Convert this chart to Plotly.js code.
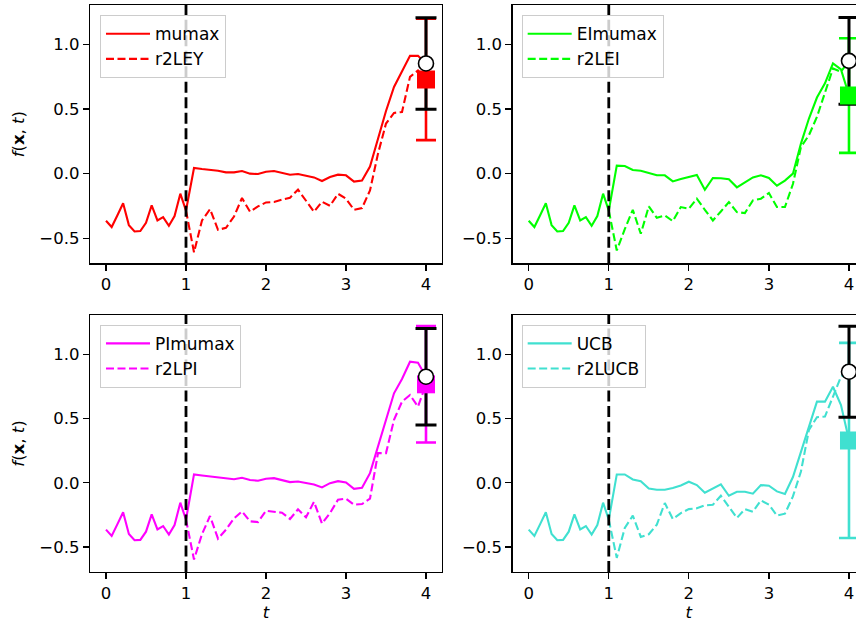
<!DOCTYPE html>
<html>
<head>
<meta charset="utf-8">
<script src="https://cdn.plot.ly/plotly-3.0.1.min.js"></script>
<style>
  html, body { margin: 0; padding: 0; overflow: hidden; background: #fff; }
  #chart { width: 880px; height: 624px; }
</style>
</head>
<body>
<div id="chart"></div>
<script>
// ---------- data ----------
const tPre = [0, 0.071, 0.143, 0.214, 0.286, 0.357, 0.429, 0.5, 0.571, 0.643, 0.714, 0.786, 0.857, 0.929, 1.0];
const tPost = [1.1, 1.2, 1.3, 1.4, 1.5, 1.6, 1.7, 1.8, 1.9, 2.0, 2.1, 2.2, 2.3, 2.4, 2.5, 2.6, 2.7, 2.8, 2.9, 3.0,
               3.1, 3.2, 3.3, 3.4, 3.5, 3.6, 3.7, 3.8, 3.9, 4.0];
const history = [-0.365, -0.414, -0.322, -0.23, -0.399, -0.448, -0.445, -0.381, -0.246, -0.363, -0.337, -0.404, -0.329, -0.155, -0.287];

const panelNames = ["mumax", "EImumax", "PImumax", "UCB"];
const r2lNames = ["r2LEY", "r2LEI", "r2LPI", "r2LUCB"];
const panelColors = ["#ff0000", "#00ff00", "#ff00ff", "#40e0d0"];

const solidMumax = [0.044, 0.036, 0.031, 0.023, 0.010, 0.010, 0.020, 0.0, -0.003, 0.015, 0.020, 0.005, -0.008, -0.003, -0.016,
  -0.029, -0.057, -0.026, -0.008, -0.013, -0.062, -0.054, 0.055, 0.273, 0.486, 0.672, 0.789, 0.913, 0.913, 0.854];
const dashR2LEY = [-0.609, -0.363, -0.275, -0.435, -0.420, -0.332, -0.189, -0.295, -0.254, -0.223, -0.220, -0.202, -0.187, -0.124, -0.212,
  -0.295, -0.218, -0.249, -0.156, -0.194, -0.280, -0.267, -0.13, 0.155, 0.388, 0.471, 0.478, 0.75, 0.80, 0.73];

const solidEImumax = [0.062, 0.059, 0.028, 0.023, 0.002, -0.013, -0.013, -0.060, -0.042, -0.026, -0.011, -0.125, -0.034, -0.036, -0.044,
  -0.106, -0.070, -0.029, -0.013, -0.034, -0.093, -0.054, 0.0, 0.233, 0.427, 0.59, 0.70, 0.854, 0.808, 0.608];
const dashR2LEI = [-0.595, -0.43, -0.280, -0.466, -0.254, -0.342, -0.324, -0.368, -0.259, -0.272, -0.194, -0.280, -0.363, -0.293, -0.220,
  -0.298, -0.306, -0.207, -0.194, -0.150, -0.259, -0.259, -0.08, 0.207, 0.298, 0.44, 0.62, 0.815, 0.79, 0.874];

const solidPImumax = [0.065, 0.057, 0.049, 0.041, 0.031, 0.028, 0.039, 0.021, 0.016, 0.031, 0.036, 0.023, 0.005, 0.010, 0.0,
  -0.013, -0.036, -0.003, 0.013, 0.003, -0.047, -0.039, 0.075, 0.282, 0.497, 0.697, 0.808, 0.943, 0.935, 0.826];
const dashR2LPI = [-0.598, -0.40, -0.259, -0.435, -0.365, -0.277, -0.223, -0.300, -0.306, -0.218, -0.225, -0.233, -0.282, -0.207, -0.269,
  -0.148, -0.318, -0.236, -0.132, -0.124, -0.171, -0.166, -0.124, 0.231, 0.231, 0.49, 0.632, 0.684, 0.593, 0.767];

const solidUCB = [0.065, 0.065, 0.026, 0.013, -0.044, -0.054, -0.054, -0.041, -0.021, 0.008, -0.018, -0.078, -0.044, -0.013, -0.101,
  -0.070, -0.070, -0.085, -0.018, -0.023, -0.067, -0.088, 0.045, 0.243, 0.443, 0.632, 0.632, 0.748, 0.606, 0.334];
const dashR2LUCB = [-0.585, -0.352, -0.256, -0.422, -0.401, -0.326, -0.158, -0.282, -0.236, -0.205, -0.199, -0.176, -0.171, -0.101, -0.184,
  -0.274, -0.205, -0.225, -0.137, -0.171, -0.256, -0.241, -0.106, 0.088, 0.412, 0.511, 0.516, 0.666, 0.826, 0.865];

const solidSeries = [solidMumax, solidEImumax, solidPImumax, solidUCB];
const dashedSeries = [dashR2LEY, dashR2LEI, dashR2LPI, dashR2LUCB];

const tFinal = [4];
const trueVal = [0.854, 0.874, 0.826, 0.865];
const trueErr = [0.355, 0.336, 0.375, 0.355];
const predVal = [0.73, 0.605, 0.767, 0.33];
const predErr = [0.47, 0.444, 0.453, 0.76];

const splitT = 1;
const xTicks = [0, 1, 2, 3, 4];
const yTicks = [-0.5, 0, 0.5, 1.0];

// ---------- build ----------
const FONT = "DejaVu Sans";
const FS = 16.5;
const LFS = 17;
const traces = [];
const axSuffix = ["", "2", "3", "4"];
const legendIds = ["legend", "legend2", "legend3", "legend4"];

for (let p = 0; p < 4; p++) {
  const xa = "x" + axSuffix[p], ya = "y" + axSuffix[p];
  const c = panelColors[p];
  traces.push({
    x: tPre.concat(tPost), y: history.concat(solidSeries[p]),
    xaxis: xa, yaxis: ya, mode: "lines", name: panelNames[p], legend: legendIds[p],
    line: { color: c, width: 2.1 }
  });
  traces.push({
    x: [tPre[tPre.length - 1]].concat(tPost), y: [history[history.length - 1]].concat(dashedSeries[p]),
    xaxis: xa, yaxis: ya, mode: "lines", name: r2lNames[p], legend: legendIds[p],
    line: { color: c, width: 2.1, dash: "8px,3.5px" }
  });
  traces.push({
    x: tFinal, y: [predVal[p]], xaxis: xa, yaxis: ya, mode: "markers", showlegend: false,
    marker: { size: 1, color: c, opacity: 0 },
    error_y: { type: "data", array: [predErr[p]], symmetric: true, color: c, thickness: 2.6, width: 10 }
  });
  traces.push({
    x: tFinal, y: [trueVal[p]], xaxis: xa, yaxis: ya, mode: "markers", showlegend: false,
    marker: { size: 1, color: "#000", opacity: 0 },
    error_y: { type: "data", array: [trueErr[p]], symmetric: true, color: "#000", thickness: 3, width: 10.5 }
  });
  traces.push({
    x: tFinal, y: [predVal[p]], xaxis: xa, yaxis: ya, mode: "markers", showlegend: false,
    marker: { symbol: "square", size: 18, color: c, line: { width: 0 } }
  });
  traces.push({
    x: tFinal, y: [trueVal[p]], xaxis: xa, yaxis: ya, mode: "markers", showlegend: false,
    marker: { symbol: "circle", size: 15, color: "#ffffff", line: { color: "#000", width: 1.6 } }
  });
}

function xAxis(domain, anchor, withTitle) {
  const a = {
    domain: domain, anchor: anchor, range: [-0.2, 4.2],
    tickvals: xTicks, ticktext: xTicks.map(String),
    ticks: "outside", ticklen: 6, tickwidth: 1.3, tickcolor: "#000",
    showline: true, linecolor: "#000", linewidth: 1.3, mirror: true,
    showgrid: false, zeroline: false, automargin: false,
    tickfont: { family: FONT, size: FS, color: "#000" }
  };
  if (withTitle) a.title = { text: "<i>t</i>", font: { family: FONT, size: FS, color: "#000" }, standoff: 4 };
  return a;
}
function yAxis(domain, anchor, withTitle) {
  const a = {
    domain: domain, anchor: anchor, range: [-0.695, 1.307],
    tickvals: yTicks, tickformat: ".1f",
    ticks: "outside", ticklen: 6, tickwidth: 1.3, tickcolor: "#000",
    showline: true, linecolor: "#000", linewidth: 1.3, mirror: true,
    showgrid: false, zeroline: false, automargin: false,
    tickfont: { family: FONT, size: FS, color: "#000" }
  };
  if (withTitle) a.title = { text: "<i>f</i>(<b>x</b>, <i>t</i>)", font: { family: FONT, size: FS, color: "#000" }, standoff: 10 };
  return a;
}

const xL = [0, 0.4542], xR = [0.5454, 1];
const yT = [0.5444, 1], yB = [0, 0.4533];

function legendAt(x, y) {
  return {
    x: x, y: y, xanchor: "left", yanchor: "top",
    bgcolor: "rgba(255,255,255,0.8)", bordercolor: "#cccccc", borderwidth: 1,
    font: { family: FONT, size: LFS, color: "#000" }, itemwidth: 44, tracegroupgap: 0
  };
}

const shapes = [];
for (let p = 0; p < 4; p++) {
  shapes.push({
    type: "line", xref: "x" + axSuffix[p], yref: "y" + axSuffix[p] + " domain",
    x0: splitT, x1: splitT, y0: 0, y1: 1, layer: "above",
    line: { color: "#000", width: 2.8, dash: "11px,4.5px" }
  });
}

const layout = {
  width: 880, height: 624,
  margin: { l: 90, r: 15, t: 5, b: 52 },
  paper_bgcolor: "#fff", plot_bgcolor: "#fff",
  font: { family: FONT, size: FS, color: "#000" },
  xaxis: xAxis(xL, "y", false), yaxis: yAxis(yT, "x", true),
  xaxis2: xAxis(xR, "y2", false), yaxis2: yAxis(yT, "x2", false),
  xaxis3: xAxis(xL, "y3", true), yaxis3: yAxis(yB, "x3", true),
  xaxis4: xAxis(xR, "y4", true), yaxis4: yAxis(yB, "x4", false),
  legend: legendAt(0.0129, 0.982),
  legend2: legendAt(0.557, 0.982),
  legend3: legendAt(0.0129, 0.436),
  legend4: legendAt(0.557, 0.436),
  shapes: shapes,
  showlegend: true
};

Plotly.newPlot("chart", traces, layout, { staticPlot: true, displayModeBar: false });
</script>
</body>
</html>
